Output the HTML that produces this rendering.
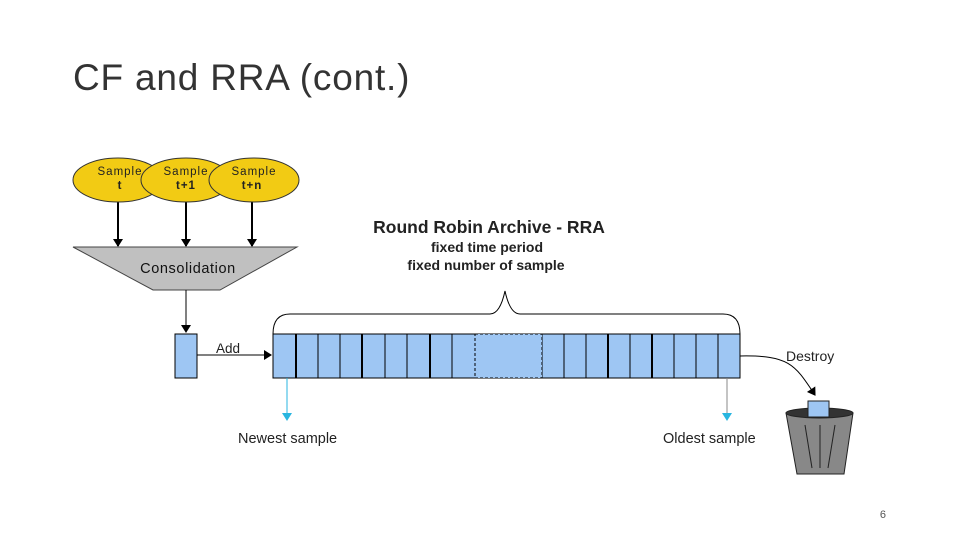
<!DOCTYPE html>
<html><head><style>
body{margin:0;background:#fff;width:960px;height:540px;overflow:hidden;position:relative;font-family:"Liberation Sans",sans-serif}
.t{position:absolute;left:73px;top:57px;font-size:37px;color:#333;letter-spacing:0.8px}
</style></head><body>
<div class="t">CF and RRA (cont.)</div>
<svg width="960" height="540" style="position:absolute;left:0;top:0" font-family="Liberation Sans, sans-serif">
<defs><marker id="a" markerWidth="8" markerHeight="10" refX="7" refY="5" orient="auto" markerUnits="userSpaceOnUse"><path d="M0,0L8,5L0,10z" fill="#000"/></marker>
<marker id="b" markerWidth="8" markerHeight="10" refX="7" refY="5" orient="auto" markerUnits="userSpaceOnUse"><path d="M0,0L8,5L0,10z" fill="#29b6e0"/></marker></defs>
<g stroke="#000" stroke-width="2" marker-end="url(#a)"><line x1="118" y1="200" x2="118" y2="246"/><line x1="186" y1="200" x2="186" y2="246"/><line x1="252" y1="200" x2="252" y2="246"/></g>
<g fill="#f2cb14" stroke="#333" stroke-width="1"><ellipse cx="118" cy="180" rx="45" ry="22"/><ellipse cx="186" cy="180" rx="45" ry="22"/><ellipse cx="254" cy="180" rx="45" ry="22"/></g>
<g font-size="11.5" text-anchor="middle" fill="#222" letter-spacing="1"><text x="120" y="175">Sample</text><text x="120" y="189" font-weight="bold">t</text><text x="186" y="175">Sample</text><text x="186" y="189" font-weight="bold">t+1</text><text x="254" y="175">Sample</text><text x="252" y="189" font-weight="bold">t+n</text></g>
<polygon points="73,247 297,247 220,290 153,290" fill="#c0c0c0" stroke="#444"/>
<text x="188" y="273" font-size="14.5" text-anchor="middle" fill="#111" letter-spacing="0.6">Consolidation</text>
<line x1="186" y1="290" x2="186" y2="332" stroke="#000" marker-end="url(#a)"/>
<rect x="175" y="334" width="22" height="44" fill="#9ec6f3" stroke="#000"/>
<line x1="197" y1="355" x2="271" y2="355" stroke="#000" marker-end="url(#a)"/>
<text x="216" y="353" font-size="13.5" fill="#222">Add</text>
<rect x="273" y="334" width="467" height="44" fill="#9ec6f3" stroke="#000"/>
<g stroke="#000"><line x1="296" y1="334" x2="296" y2="378" stroke-width="2"/><line x1="318" y1="334" x2="318" y2="378"/><line x1="340" y1="334" x2="340" y2="378"/><line x1="362" y1="334" x2="362" y2="378" stroke-width="2"/><line x1="385" y1="334" x2="385" y2="378"/><line x1="407" y1="334" x2="407" y2="378"/><line x1="430" y1="334" x2="430" y2="378" stroke-width="2"/><line x1="452" y1="334" x2="452" y2="378"/><line x1="542" y1="334" x2="542" y2="378"/><line x1="564" y1="334" x2="564" y2="378"/><line x1="586" y1="334" x2="586" y2="378"/><line x1="608" y1="334" x2="608" y2="378" stroke-width="2"/><line x1="630" y1="334" x2="630" y2="378"/><line x1="652" y1="334" x2="652" y2="378" stroke-width="2"/><line x1="674" y1="334" x2="674" y2="378"/><line x1="696" y1="334" x2="696" y2="378"/><line x1="718" y1="334" x2="718" y2="378"/></g>
<rect x="475" y="334" width="67" height="44" fill="#9ec6f3" stroke="#000" stroke-dasharray="3,2"/>
<path d="M273,334 Q273,314 290,314 L490,314 Q500,314 505,291 Q510,314 520,314 L723,314 Q740,314 740,334" fill="none" stroke="#000"/>
<text x="489" y="233" font-size="17.5" font-weight="bold" text-anchor="middle" fill="#222">Round Robin Archive - RRA</text>
<text x="487" y="252" font-size="14" font-weight="bold" text-anchor="middle" fill="#222">fixed time period</text>
<text x="486" y="270" font-size="14" font-weight="bold" text-anchor="middle" fill="#222">fixed number of sample</text>
<line x1="287" y1="378" x2="287" y2="420" stroke="#29b6e0" marker-end="url(#b)"/>
<line x1="727" y1="378" x2="727" y2="420" stroke="#888" marker-end="url(#b)"/>
<text x="238" y="443" font-size="14.5" fill="#222">Newest sample</text>
<text x="663" y="443" font-size="14.5" fill="#222">Oldest sample</text>
<text x="786" y="361" font-size="14" fill="#222">Destroy</text>
<path d="M740,356 C790,355 795,365 815,395" fill="none" stroke="#000" marker-end="url(#a)"/>
<polygon points="786,413 853,413 844,474 797,474" fill="#888" stroke="#222"/>
<ellipse cx="819.5" cy="413" rx="33.5" ry="5" fill="#333" stroke="#222"/>
<rect x="808" y="401" width="21" height="16" fill="#9ec6f3" stroke="#222"/>
<g stroke="#222"><line x1="805" y1="425" x2="812" y2="468"/><line x1="820" y1="425" x2="820" y2="468"/><line x1="835" y1="425" x2="828" y2="468"/></g>
<text x="886" y="518" font-size="11" text-anchor="end" fill="#555">6</text>
</svg>
</body></html>
